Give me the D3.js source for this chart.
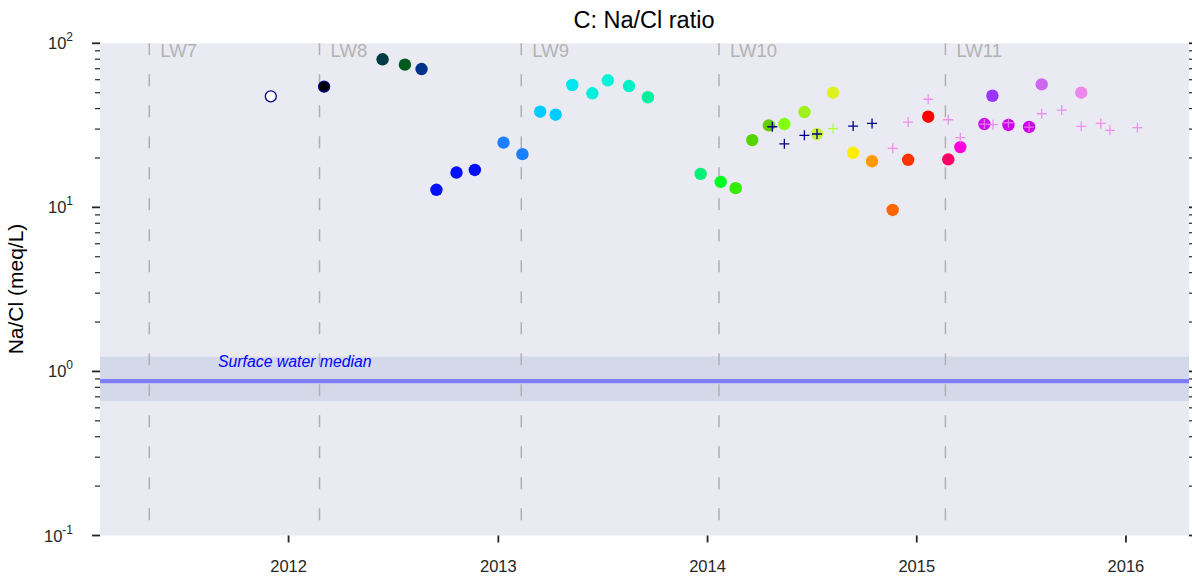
<!DOCTYPE html>
<html>
<head>
<meta charset="utf-8">
<script src="https://cdn.jsdelivr.net/npm/d3@7"></script>
<style>
  body { margin: 0; background: #fff; }
  svg text { font-family: "Liberation Sans", Arial, sans-serif; }
</style>
</head>
<body>
<svg width="1192" height="579"></svg>
<script>
/* DATA */
var sampleDates = ["2011-12-01", "2012-03-03", "2012-06-13", "2012-07-22", "2012-08-20",
  "2012-09-15", "2012-10-20", "2012-11-21", "2013-01-10", "2013-02-12",
  "2013-03-15", "2013-04-11", "2013-05-10", "2013-06-14", "2013-07-11",
  "2013-08-17", "2013-09-19", "2013-12-20", "2014-01-24", "2014-02-19",
  "2014-03-20", "2014-04-18", "2014-05-15", "2014-06-19", "2014-07-11",
  "2014-08-08", "2014-09-12", "2014-10-15", "2014-11-20", "2014-12-17",
  "2015-01-21", "2015-02-25", "2015-03-18", "2015-04-29", "2015-05-13",
  "2015-06-10", "2015-07-16", "2015-08-07", "2015-10-15"];
var sampleRatio = [47.5, 54.4, 79.9, 74.1, 69.7,
  12.8, 16.3, 16.9, 24.8, 21.1,
  38.3, 36.7, 55.7, 49.6, 59.5,
  54.9, 46.9, 16.0, 14.3, 13.1,
  25.7, 31.6, 32.2, 38.1, 28.0,
  50.0, 21.5, 19.1, 9.64, 19.5,
  35.7, 19.6, 23.3, 32.2, 47.9,
  31.8, 30.9, 56.2, 50.0];
var sampleColors = ["#ffffff", "#000000", "#003c46", "#005a1e", "#00328c",
  "#0010ff", "#0010ff", "#0010ff", "#1a80ff", "#1a80ff",
  "#00ccff", "#00ccff", "#00e6f0", "#00f0dc", "#00f5d8",
  "#00f0c8", "#00f0a0", "#00f078", "#00ff22", "#33ee00",
  "#55d400", "#66cc00", "#80ff10", "#a0f020", "#c8f040",
  "#e0f020", "#ffee00", "#ff9900", "#ff6600", "#ff3300",
  "#ff0000", "#ff0066", "#ff00dd", "#cc11ee", "#9933ff",
  "#cc00ee", "#cc00ee", "#cc66ee", "#ee88ee"];

var navyDates = ["2014-04-24", "2014-05-15", "2014-06-19", "2014-07-11", "2014-09-12", "2014-10-15"];
var navyRatio = [31.0, 24.4, 27.5, 28.0, 31.3, 32.5];
var limeDates = ["2014-08-08"];
var limeRatio = [30.2];
var violetDates = ["2014-11-20", "2014-12-17", "2015-01-21", "2015-02-25", "2015-03-18",
  "2015-04-29", "2015-05-14", "2015-06-10", "2015-07-16", "2015-08-07",
  "2015-09-11", "2015-10-15", "2015-11-18", "2015-12-04", "2016-01-21"];
var violetRatio = [22.9, 33.1, 45.6, 34.2, 26.6,
  32.2, 31.9, 32.8, 30.8, 37.2,
  39.2, 31.2, 32.5, 29.5, 30.6];

var wallNames = ["LW7", "LW8", "LW9", "LW10", "LW11"];
var wallDates = ["2011-05-03", "2012-02-24", "2013-02-10", "2014-01-21", "2015-02-20"];

var surfaceMedian = 0.873;
var surfaceBand = [0.66, 1.23];
var xTickYears = [2012, 2013, 2014, 2015, 2016];
var yMajor = [0.1, 1, 10, 100];
var yExponents = ["-1", "0", "1", "2"];

function draw() {
  /* SVG */
  var parse = d3.utcParse("%Y-%m-%d");
  var svg = d3.select("svg");
  var left = 100, right = 1189, plotTop = 43.3, plotBottom = 535.5;

  var x = d3.scaleUtc()
    .domain([parse("2011-02-06"), parse("2016-04-20")])
    .range([left, right]);
  var y = d3.scaleLog().domain([0.1, 100]).range([plotBottom, plotTop]);

  svg.append("rect")
    .attr("x", left).attr("y", plotTop)
    .attr("width", right - left).attr("height", plotBottom - plotTop)
    .attr("fill", "#eaeaf2");

  /* SURFACE WATER BAND */
  svg.append("rect")
    .attr("x", left).attr("width", right - left)
    .attr("y", y(surfaceBand[1]))
    .attr("height", y(surfaceBand[0]) - y(surfaceBand[1]))
    .attr("fill", "#d3d9e8");
  svg.append("line")
    .attr("x1", left).attr("x2", right)
    .attr("y1", y(surfaceMedian)).attr("y2", y(surfaceMedian))
    .attr("stroke", "#7f7ff5").attr("stroke-width", 4.3);
  svg.append("text")
    .attr("x", 218).attr("y", y(surfaceBand[1]) + 10)
    .attr("fill", "#0000ff").attr("font-size", 15.8).attr("font-style", "italic")
    .text("Surface water median");

  /* LONGWALL LINES */
  var walls = svg.append("g");
  wallDates.forEach(function (d, i) {
    var wx = x(parse(d));
    walls.append("line")
      .attr("x1", wx).attr("x2", wx).attr("y1", plotTop).attr("y2", plotBottom)
      .attr("stroke", "#b0b0b0").attr("stroke-width", 1.5)
      .attr("stroke-dasharray", "12,19");
    walls.append("text")
      .attr("x", wx + 11).attr("y", 57)
      .attr("fill", "#b3b3b3").attr("font-size", 18.5)
      .text(wallNames[i]);
  });

  /* AXES */
  var xAxis = svg.append("g");
  xTickYears.forEach(function (yr) {
    var tx = x(Date.UTC(yr, 0, 1));
    xAxis.append("line")
      .attr("x1", tx).attr("x2", tx).attr("y1", plotBottom).attr("y2", plotBottom + 7)
      .attr("stroke", "#262626").attr("stroke-width", 1.8);
    xAxis.append("text")
      .attr("x", tx).attr("y", 572).attr("text-anchor", "middle")
      .attr("fill", "#262626").attr("font-size", 16.5)
      .text(yr);
  });

  var yAxis = svg.append("g");
  var minor = [];
  [0.1, 1, 10].forEach(function (base) {
    for (var m = 2; m <= 9; m++) minor.push(base * m);
  });
  yMajor.forEach(function (v, i) {
    var ty = y(v);
    [[left - 8, left], [right, right + 8]].forEach(function (s) {
      yAxis.append("line")
        .attr("x1", s[0]).attr("x2", s[1]).attr("y1", ty).attr("y2", ty)
        .attr("stroke", "#262626").attr("stroke-width", 1.8);
    });
    var t = yAxis.append("text")
      .attr("x", 73).attr("y", ty + 6).attr("text-anchor", "end")
      .attr("fill", "#262626").attr("font-size", 16.5);
    t.append("tspan").text("10");
    t.append("tspan").attr("dy", -8).attr("font-size", 12).text(yExponents[i]);
  });
  minor.forEach(function (v) {
    var ty = y(v);
    [[left - 5, left], [right, right + 5]].forEach(function (s) {
      yAxis.append("line")
        .attr("x1", s[0]).attr("x2", s[1]).attr("y1", ty).attr("y2", ty)
        .attr("stroke", "#262626").attr("stroke-width", 1.2);
    });
  });

  svg.append("text")
    .attr("transform", "translate(23," + 289 + ") rotate(-90)")
    .attr("text-anchor", "middle").attr("fill", "#000").attr("font-size", 21)
    .text("Na/Cl (meq/L)");

  svg.append("text")
    .attr("x", 644).attr("y", 28).attr("text-anchor", "middle")
    .attr("fill", "#000").attr("font-size", 23.5)
    .text("C: Na/Cl ratio");

  /* POINTS */
  svg.append("g")
    .selectAll("circle")
    .data(sampleDates)
    .enter()
    .append("circle")
    .attr("cx", function (d) { return x(parse(d)); })
    .attr("cy", function (d, i) { return y(sampleRatio[i]); })
    .attr("r", function (d, i) { return i < 2 ? 5.5 : 6.2; })
    .attr("fill", function (d, i) { return sampleColors[i]; })
    .attr("stroke", function (d, i) { return i < 2 ? "#00008b" : "none"; })
    .attr("stroke-width", 1.3);

  function crosses(dates, values, color, opacity) {
    var g = svg.append("g").attr("stroke", color).attr("stroke-width", 1.3)
      .attr("opacity", opacity);
    dates.forEach(function (d, i) {
      var cx = x(parse(d)), cy = y(values[i]);
      g.append("path").attr("d", "M" + (cx - 5) + "," + cy + "H" + (cx + 5) +
        "M" + cx + "," + (cy - 5) + "V" + (cy + 5));
    });
  }
  crosses(navyDates, navyRatio, "#000080", 1);
  crosses(limeDates, limeRatio, "#adff2f", 1);
  crosses(violetDates, violetRatio, "#ee82ee", 0.85);
}
draw();
</script>
</body>
</html>
